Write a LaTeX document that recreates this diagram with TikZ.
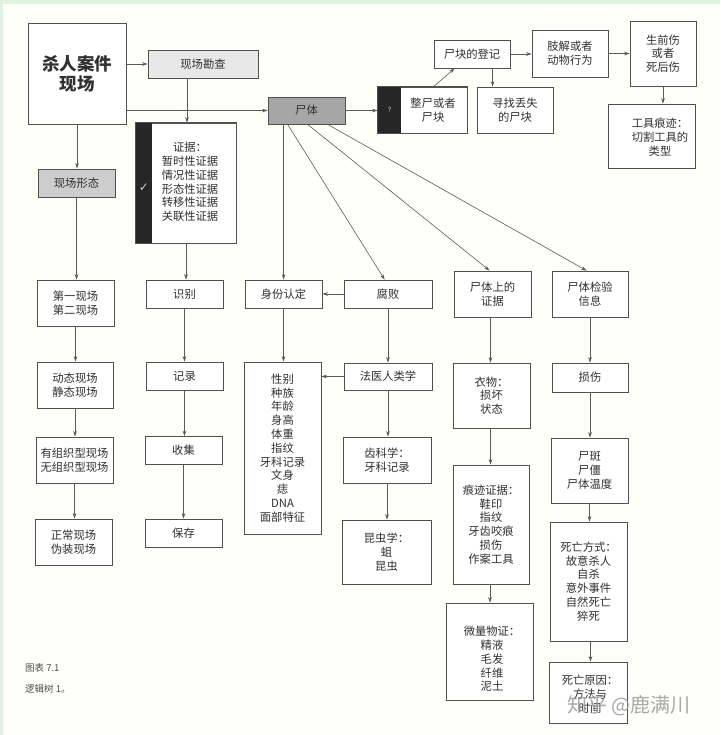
\documentclass[tikz,border=0pt]{standalone}
\usepackage{fontspec}
\setmainfont{Noto Sans CJK SC}
\newfontfamily\symfont{DejaVu Sans}
\usetikzlibrary{arrows.meta}
\definecolor{ln}{HTML}{5a5a5a}
\definecolor{bd}{HTML}{505050}
\definecolor{txt}{HTML}{303030}
\definecolor{lg}{HTML}{e8e8e8}
\definecolor{mg}{HTML}{cdcdcd}
\definecolor{dg}{HTML}{a6a6a6}
\definecolor{dk}{HTML}{262626}
\definecolor{gr}{HTML}{e2f2e2}
\begin{document}
\begin{tikzpicture}[x=1pt,y=-1pt,
  bx/.style={draw=bd, line width=0.8pt, fill=white, inner sep=0pt, align=center, text=txt,
             font=\fontsize{11.3}{13.8}\selectfont},
  lbl/.style={inner sep=0pt, align=center, text=txt, font=\fontsize{11.3}{13.8}\selectfont},
  ar/.style={draw=ln, line width=0.6pt, -{Stealth[length=5.5pt,width=3.6pt]}},
]
\useasboundingbox (0,0) rectangle (720,735);
\fill[white!98!yellow] (0,0) rectangle (720,735);
\fill[gr] (0,0) rectangle (720,4);
\fill[gr] (0,0) rectangle (2.5,735);

% top row
\node[bx, minimum width=98pt, minimum height=101pt, font=\fontsize{17.5}{20}\selectfont\bfseries] (kill) at (77,73.5) {杀人案件\\现场};
\node[bx, fill=lg, minimum width=110pt, minimum height=28pt] (kcjc) at (203,64) {现场勘查};
\node[bx, fill=dg, minimum width=77pt, minimum height=27pt] (shiti) at (306.5,110.5) {尸体};
\node[bx, fill=mg, minimum width=77pt, minimum height=28pt] (xtxt) at (76.5,183) {现场形态};
\node[bx, minimum width=100pt, minimum height=120pt] (zj) at (186,183) {};
\fill[dk] (zj.north west) rectangle ([xshift=16pt]zj.south west);
\draw[bd, line width=0.8pt] (zj.north west) rectangle (zj.south east);
\node[lbl] (zjt) at (190,182) {证据：\\暂时性证据\\情况性证据\\形态性证据\\转移性证据\\关联性证据};
\node[inner sep=0pt, text=white!80!black, font=\symfont\fontsize{12}{12}\selectfont] (chk) at (144,188) {✓};

\node[bx, minimum width=89pt, minimum height=46pt] (zs) at (422.5,110) {};
\fill[dk] (zs.north west) rectangle ([xshift=23pt]zs.south west);
\draw[bd, line width=0.8pt] (zs.north west) rectangle (zs.south east);
\node[lbl] (zst) at (433,110) {整尸或者\\尸块};
\node[inner sep=0pt, text=white!85!black, font=\fontsize{7}{7}\selectfont] (q) at (389.5,110) {?};
\node[bx, minimum width=76pt, minimum height=46pt] (xz) at (515,110) {寻找丢失\\的尸块};
\node[bx, minimum width=76pt, minimum height=28pt] (skdj) at (472,54) {尸块的登记};
\node[bx, minimum width=76pt, minimum height=47pt] (zjdw) at (570,53.5) {肢解或者\\动物行为};
\node[bx, minimum width=66pt, minimum height=65pt] (sqs) at (663,53.5) {生前伤\\或者\\死后伤};
\node[bx, minimum width=87pt, minimum height=64pt] (gj) at (651.5,136) {};
\node[lbl] (gjt) at (660,137) {工具痕迹：\\切割工具的\\类型};

% column 1
\node[bx, minimum width=77pt, minimum height=46pt] (c1a) at (75.5,303) {第一现场\\第二现场};
\node[bx, minimum width=76pt, minimum height=46pt] (c1b) at (75,385) {动态现场\\静态现场};
\node[bx, minimum width=77pt, minimum height=46pt] (c1c) at (74.5,460) {有组织型现场\\无组织型现场};
\node[bx, minimum width=77pt, minimum height=46pt] (c1d) at (73.5,542) {正常现场\\伪装现场};

% column 2
\node[bx, minimum width=77pt, minimum height=28pt] (c2a) at (184.5,294) {识别};
\node[bx, minimum width=77pt, minimum height=28pt] (c2b) at (184.5,376) {记录};
\node[bx, minimum width=77pt, minimum height=28pt] (c2c) at (183.5,450.5) {收集};
\node[bx, minimum width=77pt, minimum height=28pt] (c2d) at (183.5,533) {保存};

% column 3
\node[bx, minimum width=77pt, minimum height=28pt] (sfrd) at (283.5,294) {身份认定};
\node[bx, minimum width=77pt, minimum height=172pt] (xb) at (282.5,448) {性别\\种族\\年龄\\身高\\体重\\指纹\\牙科记录\\文身\\痣\\DNA\\面部特征};

% column 4
\node[bx, minimum width=88pt, minimum height=28pt] (fb) at (388,294) {腐败};
\node[bx, minimum width=88pt, minimum height=27pt] (fy) at (388,376.5) {法医人类学};
\node[bx, minimum width=88pt, minimum height=46pt] (ck) at (387,460) {齿科学：\\牙科记录};
\node[bx, minimum width=89pt, minimum height=64pt] (kc) at (386.5,552) {昆虫学：\\蛆\\昆虫};

% column 5
\node[bx, minimum width=77pt, minimum height=46pt] (stz) at (492.5,294) {尸体上的\\证据};
\node[bx, minimum width=77pt, minimum height=65pt] (yw) at (491.5,395.5) {衣物：\\损坏\\状态};
\node[bx, minimum width=76pt, minimum height=119pt] (hj) at (491,524.5) {痕迹证据：\\鞋印\\指纹\\牙齿咬痕\\损伤\\作案工具};
\node[bx, minimum width=87pt, minimum height=97pt] (wl) at (489.5,651.5) {};
\node[lbl] (wlt) at (492,659) {微量物证：\\精液\\毛发\\纤维\\泥土};

% column 6
\node[bx, minimum width=76pt, minimum height=46pt] (sjy) at (590,294) {尸体检验\\信息};
\node[bx, minimum width=76pt, minimum height=29pt] (ss) at (590,377.5) {损伤};
\node[bx, minimum width=77pt, minimum height=65pt] (sb) at (589.5,470.5) {尸斑\\尸僵\\尸体温度};
\node[bx, minimum width=77pt, minimum height=119pt] (swfs) at (588.5,581.5) {死亡方式：\\故意杀人\\自杀\\意外事件\\自然死亡\\猝死};
\node[bx, minimum width=78pt, minimum height=61pt] (swyy) at (588,692.5) {};
\node[lbl] (swyyt) at (590,694) {死亡原因：\\方法与\\时间};

% caption and watermark
\node[anchor=west, inner sep=0pt, text=txt!85, font=\fontsize{9.5}{10}\selectfont] (cap1) at (25,668) {图表 7.1};
\node[anchor=west, inner sep=0pt, text=txt!85, font=\fontsize{9.5}{10}\selectfont] (cap2) at (25,689) {逻辑树 1。};
\node[inner sep=0pt, text=black!40, opacity=0.85, font=\fontsize{20}{20}\selectfont] (wm) at (629,706) {知乎 @鹿满川};

% connectors: top
\draw[ar] (kill.east |- kcjc.west) -- (kcjc.west);
\draw[ar] (kill.east |- shiti.west) -- (shiti.west);
\draw[ar] ([xshift=-16pt]kcjc.south) -- ([xshift=-16pt]kcjc.south |- zj.north);
\draw[ar] (kill.south) -- (kill.south |- xtxt.north);
\draw[ar] (shiti.east) -- (shiti.east -| zs.west);
\draw[ar] ([xshift=56pt]zs.north west) -- ([xshift=21pt]skdj.south west);
\draw[ar] ([xshift=59pt]skdj.south west) -- ([xshift=59pt]skdj.south west |- xz.north);
\draw[ar] (skdj.east) -- (skdj.east -| zjdw.west);
\draw[ar] (zjdw.east) -- (zjdw.east -| sqs.west);
\draw[ar] (sqs.south) -- (sqs.south |- gj.north);

% from 尸体
\draw[ar] ([xshift=16pt]shiti.south west) -- ([xshift=16pt]shiti.south west |- sfrd.north);
\draw[ar] ([xshift=20pt]shiti.south west) -- ([xshift=41pt]fb.north west);
\draw[ar] ([xshift=40pt]shiti.south west) -- ([xshift=36pt]stz.north west);
\draw[ar] ([xshift=60pt]shiti.south west) -- ([xshift=35pt]sjy.north west);

% columns
\draw[ar] (xtxt.south) -- (xtxt.south |- c1a.north);
\draw[ar] (c1a.south) -- (c1a.south |- c1b.north);
\draw[ar] (c1b.south) -- (c1b.south |- c1c.north);
\draw[ar] (c1c.south) -- (c1c.south |- c1d.north);

\draw[ar] (zj.south) -- (zj.south |- c2a.north);
\draw[ar] (c2a.south) -- (c2a.south |- c2b.north);
\draw[ar] (c2b.south) -- (c2b.south |- c2c.north);
\draw[ar] (c2c.south) -- (c2c.south |- c2d.north);

\draw[ar] (sfrd.south) -- (sfrd.south |- xb.north);
\draw[ar] (fb.west) -- (fb.west -| sfrd.east);
\draw[ar] (fb.south) -- (fb.south |- fy.north);
\draw[ar] (fy.west) -- (fy.west -| xb.east);
\draw[ar] (fy.south) -- (fy.south |- ck.north);
\draw[ar] (ck.south) -- (ck.south |- kc.north);

\draw[ar] ([xshift=-2pt]stz.south) -- ([xshift=-2pt]stz.south |- yw.north);
\draw[ar] ([xshift=-1pt]yw.south) -- ([xshift=-1pt]yw.south |- hj.north);
\draw[ar] ([xshift=-1pt]hj.south) -- ([xshift=-1pt]hj.south |- wl.north);

\draw[ar] (sjy.south) -- (sjy.south |- ss.north);
\draw[ar] (ss.south) -- (ss.south |- sb.north);
\draw[ar] (sb.south) -- (sb.south |- swfs.north);
\draw[ar] ([xshift=2pt]swfs.south) -- ([xshift=2pt]swfs.south |- swyy.north);
\end{tikzpicture}
\end{document}
